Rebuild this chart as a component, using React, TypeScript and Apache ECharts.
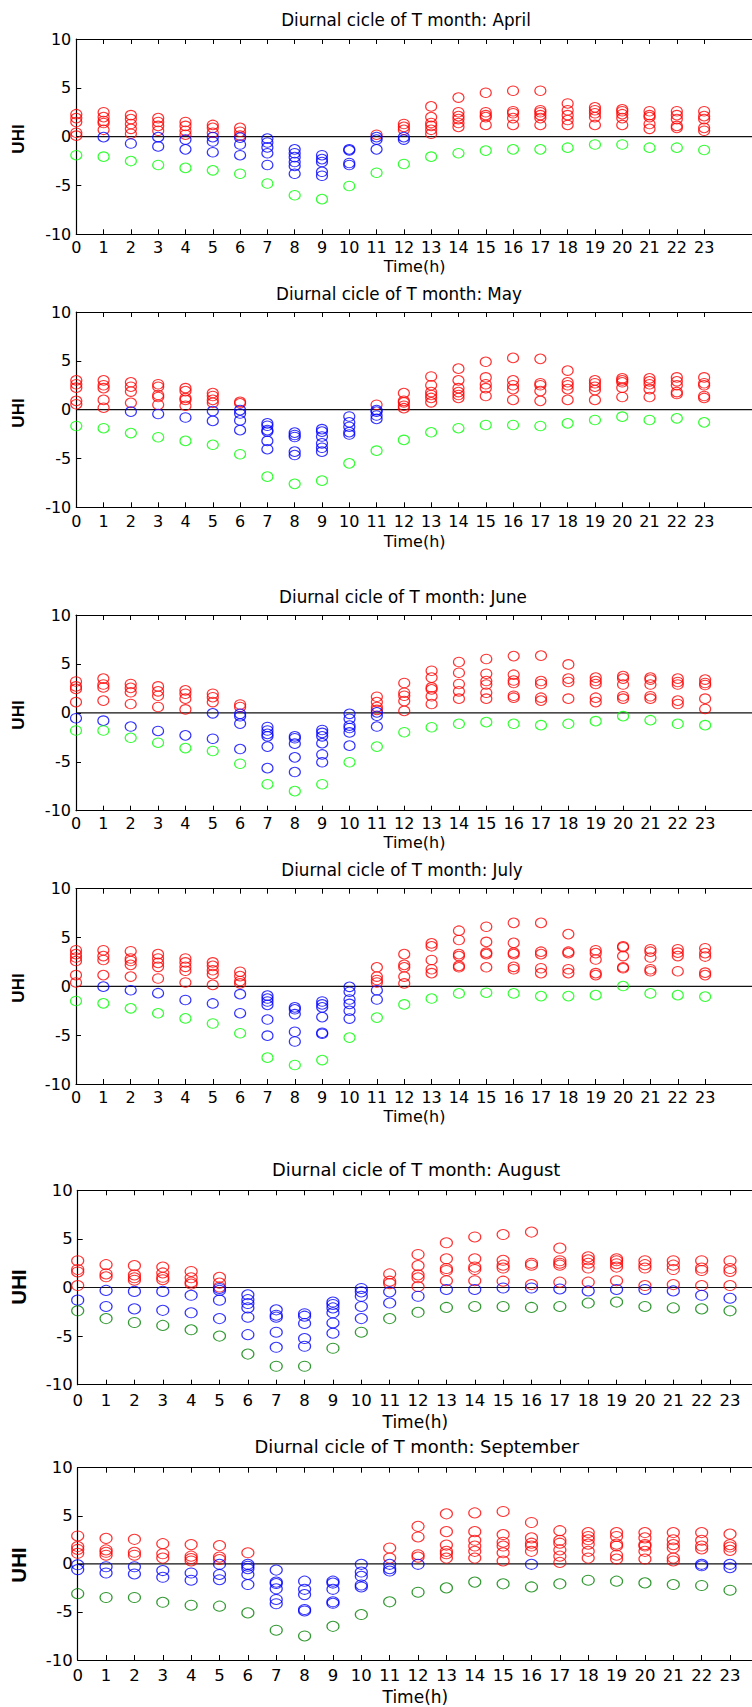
import React, { useEffect, useRef } from "react";
import * as echarts from "echarts";

// ---------------- DATA ----------------
const hours = [0, 1, 2, 3, 4, 5, 6, 7, 8, 9, 10, 11, 12, 13, 14, 15, 16, 17, 18, 19, 20, 21, 22, 23];
const yTicks = [-10, -5, 0, 5, 10];
const monthNames = ["April", "May", "June", "July", "August", "September"];

const aprRed = [
  [2.3, 1.9, 1.5, 0.4, 0.1], [2.5, 2.0, 1.6, 1.4, 0.7], [2.2, 1.8, 1.3, 0.8, 0.3], [1.9, 1.5, 1.1, 0.6],
  [1.5, 1.1, 0.6, 0.2], [1.2, 0.9, 0.4], [0.9, 0.5, 0.1], [], [], [], [], [0.2],
  [1.3, 1.0, 0.7], [3.1, 2.0, 1.4, 1.1, 0.7, 0.3], [4.0, 2.5, 2.1, 1.8, 1.4, 1.0], [4.5, 2.5, 2.2, 2.0, 1.2],
  [4.7, 2.6, 2.4, 1.9, 1.2], [4.7, 2.7, 2.5, 2.2, 1.9, 1.2], [3.4, 2.7, 2.2, 1.7, 1.2], [3.0, 2.7, 2.4, 2.0, 1.2],
  [2.8, 2.6, 2.3, 1.9, 1.2], [2.6, 2.2, 2.0, 1.3, 0.8], [2.6, 2.2, 1.8, 1.1, 0.9], [2.6, 2.1, 1.8, 0.9, 0.6],
];
const aprBlue = [
  [], [-0.05], [-0.7], [-0.05, -1.0], [-0.3, -1.3], [-0.05, -0.5, -1.6], [-0.1, -0.8, -1.9],
  [-0.2, -0.6, -1.1, -1.7, -2.9], [-1.3, -1.7, -2.1, -2.6, -3.0, -3.8], [-1.9, -2.3, -2.6, -3.6, -4.0],
  [-1.3, -1.4, -2.7, -2.9], [-0.05, -0.3, -1.3], [-0.05, -0.3], [], [], [], [], [], [], [], [], [], [], [],
];
const aprGreen = [-1.9, -2.05, -2.5, -2.9, -3.2, -3.45, -3.8, -4.8, -6.0, -6.4, -5.05, -3.7, -2.8, -2.05, -1.7, -1.43, -1.3, -1.3, -1.13, -0.8, -0.8, -1.13, -1.13, -1.37];

const mayRed = [
  [3.0, 2.6, 2.25, 0.9, 0.55], [3.0, 2.5, 2.2, 1.0, 0.2], [2.8, 2.35, 1.85, 0.7], [2.6, 2.35, 1.5, 1.3, 0.5],
  [2.2, 1.9, 1.2, 1.0, 0.4], [1.7, 1.4, 1.0, 0.7], [0.8, 0.65], [], [], [], [], [0.5],
  [1.7, 0.9, 0.75, 0.4, 0.15], [3.4, 2.5, 1.8, 1.5, 1.2, 0.75], [4.2, 3.0, 2.2, 1.8, 1.5, 1.2], [4.9, 3.3, 2.6, 2.2, 1.4],
  [5.3, 3.0, 2.5, 2.1, 1.0], [5.2, 2.7, 2.5, 1.9, 0.9], [4.0, 2.8, 2.5, 2.1, 1.0], [3.0, 2.7, 2.35, 2.0, 1.0],
  [3.2, 3.0, 2.8, 2.25, 1.3], [3.2, 2.9, 2.6, 2.1, 1.3], [3.3, 2.9, 2.5, 1.8, 1.6], [3.3, 2.7, 2.5, 1.4, 1.2],
];
const mayBlue = [
  [], [], [-0.2], [-0.45], [-0.8], [-0.15, -1.15], [-0.05, -0.4, -1.1, -2.1],
  [-1.4, -1.65, -2.1, -2.25, -3.2, -4.05], [-2.35, -2.6, -2.8, -4.3, -4.65], [-2.0, -2.25, -2.75, -3.45, -3.9, -4.3],
  [-0.7, -1.3, -1.75, -2.3, -2.55], [-0.05, -0.2, -0.6, -0.95], [], [], [], [], [], [], [], [], [], [], [], [],
];
const mayGreen = [-1.67, -1.9, -2.4, -2.83, -3.2, -3.6, -4.57, -6.86, -7.6, -7.27, -5.5, -4.2, -3.1, -2.32, -1.9, -1.57, -1.57, -1.67, -1.4, -1.06, -0.72, -1.06, -0.89, -1.3];

const junRed = [
  [3.2, 2.7, 2.45, 1.1], [3.5, 2.9, 2.6, 1.25], [2.95, 2.55, 2.1, 0.9], [2.7, 2.2, 1.75, 0.6],
  [2.3, 1.95, 1.45, 0.35], [1.95, 1.6, 1.1], [0.85, 0.6], [], [], [], [], [1.65, 1.1, 0.6, 0.3],
  [3.05, 2.05, 1.75, 1.2, 0.2], [4.3, 3.6, 2.6, 2.4, 1.7, 0.9], [5.2, 4.1, 2.95, 2.2, 1.45], [5.5, 4.0, 3.25, 2.9, 2.05, 1.45],
  [5.8, 3.9, 3.3, 3.05, 1.75, 1.55], [5.85, 3.25, 2.95, 1.55, 1.25], [4.95, 3.5, 3.15, 1.45], [3.6, 3.25, 2.95, 1.55, 1.1],
  [3.75, 3.5, 2.9, 1.7, 1.45], [3.6, 3.4, 2.9, 1.7, 1.45], [3.5, 3.15, 2.9, 1.25, 0.9], [3.4, 3.05, 2.85, 1.45, 0.4],
];
const junBlue = [
  [-0.55], [-0.8], [-1.4], [-1.85], [-2.3], [-0.05, -2.65], [-0.1, -0.35, -1.1, -3.7],
  [-1.45, -1.8, -2.15, -2.4, -3.45, -5.65], [-2.4, -2.6, -3.15, -4.55, -6.05], [-1.75, -2.05, -2.4, -3.1, -4.25, -5.05],
  [-0.1, -0.6, -1.3, -1.55, -2.0, -3.35], [0.05, -0.3, -1.4], [], [], [], [], [], [], [], [], [], [], [], [],
];
const junGreen = [-1.8, -1.8, -2.55, -3.05, -3.6, -3.9, -5.2, -7.3, -8.0, -7.3, -5.05, -3.45, -1.98, -1.47, -1.12, -0.95, -1.12, -1.26, -1.12, -0.85, -0.34, -0.75, -1.12, -1.26];

const julRed = [
  [3.7, 3.3, 2.95, 2.6, 1.15, 0.4], [3.7, 3.1, 2.7, 1.15], [3.6, 2.85, 2.6, 2.2, 1.0], [3.3, 2.85, 2.4, 2.0, 0.8],
  [2.85, 2.45, 2.0, 1.6, 0.4], [2.45, 2.1, 1.65, 1.25, 0.15], [1.5, 1.05, 0.55, 0.3], [], [], [], [], [1.95, 1.0, 0.65, 0.4],
  [3.3, 2.2, 1.95, 1.0, 0.3], [4.4, 4.1, 2.7, 1.75, 1.35], [5.7, 4.75, 3.3, 3.1, 2.1, 1.95], [6.1, 4.55, 3.45, 3.3, 1.95],
  [6.5, 4.45, 3.45, 3.3, 2.0, 1.75], [6.5, 3.55, 3.3, 1.85, 1.35], [5.35, 3.55, 3.4, 1.75, 1.35], [3.7, 3.4, 2.75, 1.35, 1.15],
  [4.1, 4.0, 3.1, 1.95, 1.85], [3.8, 3.55, 2.95, 1.75, 1.55], [3.8, 3.45, 3.1, 1.55], [3.9, 3.4, 3.05, 1.4, 1.15],
];
const julBlue = [
  [], [-0.03], [-0.4], [-0.7], [-1.4], [-1.75], [-0.8, -2.75],
  [-0.95, -1.25, -1.55, -1.9, -3.4, -5.05], [-2.15, -2.35, -2.85, -4.65, -5.65], [-1.55, -1.85, -2.15, -3.15, -4.75, -4.85],
  [-0.05, -0.55, -1.35, -1.8, -2.5, -3.3], [-0.4, -1.35], [], [], [], [], [], [], [], [], [], [], [], [],
];
const julGreen = [-1.5, -1.74, -2.25, -2.76, -3.28, -3.8, -4.8, -7.3, -8.05, -7.55, -5.25, -3.2, -1.85, -1.25, -0.72, -0.65, -0.72, -1.0, -1.0, -0.9, 0.03, -0.72, -0.9, -1.05];

const augRed = [
  [2.75, 1.85, 1.6, 0.2], [2.35, 1.4, 1.1], [2.25, 1.3, 1.0, 0.75], [2.1, 1.5, 1.05, 0.8],
  [1.65, 1.0, 0.55, 0.35], [1.05, 0.45, 0.05], [], [], [], [], [], [1.4, 0.65, 0.4],
  [3.4, 2.25, 1.3, 1.0, 0.1], [4.6, 2.95, 1.95, 1.75, 0.7], [5.2, 2.95, 2.1, 1.85, 0.7], [5.45, 2.8, 2.3, 2.0, 0.65],
  [5.7, 2.5, 2.3, 0.3], [4.05, 2.75, 2.5, 2.3, 0.55], [3.15, 2.85, 2.5, 2.0, 0.55], [2.95, 2.75, 2.45, 2.1, 0.7],
  [2.75, 2.35, 2.0, 0.2], [2.75, 2.3, 1.85, 0.3], [2.75, 2.0, 1.75, 0.2], [2.75, 1.95, 1.65, 0.2],
];
const augBlue = [
  [-1.3], [-0.3, -1.95], [-0.4, -2.2], [-0.4, -2.35], [-0.8, -2.6], [-0.1, -0.3, -1.3, -3.2],
  [-0.75, -1.25, -1.65, -2.1, -3.05, -4.85], [-2.3, -2.85, -3.05, -4.6, -6.15], [-2.7, -2.95, -3.7, -5.25, -6.05],
  [-1.5, -1.75, -2.1, -2.6, -3.65, -4.7], [-0.1, -0.45, -0.9, -1.95, -3.2], [-0.45, -1.6], [-0.9], [-0.2], [-0.2],
  [-0.05], [-0.05], [-0.15], [-0.35], [-0.2], [-0.2], [-0.35], [-0.8], [-1.1],
];
const augGreen = [-2.4, -3.2, -3.6, -3.9, -4.35, -5.0, -6.85, -8.1, -8.1, -6.25, -4.6, -3.2, -2.55, -2.05, -1.95, -1.95, -2.05, -1.95, -1.6, -1.5, -1.95, -2.1, -2.2, -2.4];

const sepRed = [
  [2.9, 1.8, 1.5, 1.1], [2.65, 1.45, 1.2, 0.9], [2.55, 1.2, 0.9], [2.1, 1.05, 0.6],
  [2.0, 0.8, 0.55, 0.3], [1.9, 0.7, 0.45], [1.15], [], [], [], [], [1.65, 0.6],
  [3.9, 2.8, 0.95, 0.7], [5.2, 3.35, 1.95, 1.3, 1.05, 0.6], [5.3, 3.35, 2.45, 1.85, 1.3, 0.6], [5.45, 3.05, 2.25, 1.85, 1.15, 0.3],
  [4.3, 2.7, 2.15, 1.85, 1.3], [3.45, 2.45, 2.15, 1.45, 0.8, 0.15], [3.25, 2.85, 2.5, 2.05, 1.3, 0.6], [3.25, 2.85, 2.05, 1.85, 0.9, 0.5],
  [3.25, 2.7, 2.0, 1.85, 1.3, 0.5], [3.25, 2.5, 2.0, 1.65, 0.6, 0.3], [3.25, 2.45, 1.85, 1.55], [3.1, 2.0, 1.75, 1.4],
];
const sepBlue = [
  [-0.1, -0.6], [-0.3, -0.95], [-0.3, -1.05], [-0.7, -1.4], [-0.95, -1.7], [-0.05, -1.1, -1.65],
  [-0.05, -0.25, -0.5, -1.1, -2.15], [-0.65, -1.9, -2.05, -2.6, -3.7, -4.15], [-1.8, -2.65, -3.2, -4.75, -4.9],
  [-1.8, -2.0, -2.65, -3.95, -4.1], [-0.05, -0.85, -1.3, -2.2, -2.4], [-0.05, -0.5, -0.75], [-0.05], [], [], [],
  [-0.05], [], [], [], [], [], [-0.05, -0.2], [-0.05, -0.4],
];
const sepGreen = [-3.1, -3.5, -3.5, -4.0, -4.3, -4.4, -5.1, -6.9, -7.5, -6.5, -5.27, -3.95, -2.95, -2.5, -1.9, -2.08, -2.4, -2.08, -1.7, -1.8, -1.98, -2.15, -2.25, -2.74];

const reds = [aprRed, mayRed, junRed, julRed, augRed, sepRed];
const blues = [aprBlue, mayBlue, junBlue, julBlue, augBlue, sepBlue];
const greens = [aprGreen, mayGreen, junGreen, julGreen, augGreen, sepGreen];

// ---------------- LAYOUT ----------------
const layout = [
  { top: 39, height: 195.3, left: 76.3, width: 676.7, xmax: 24.79, tx: 406, ty: 20, ts: 16.75, uy: 139, us: 17, gap: 24, lm: 5, sym: [11, 9.5], green: "#00ff00", fs: 16, ns: 16 },
  { top: 312, height: 195.3, left: 76.3, width: 676.7, xmax: 24.79, tx: 399, ty: 294, ts: 16.75, uy: 413, us: 17, gap: 26, lm: 6, sym: [11, 9.5], green: "#00ff00", fs: 16, ns: 16 },
  { top: 615, height: 195.7, left: 76, width: 677, xmax: 24.75, tx: 403, ty: 596.7, ts: 16.75, uy: 715, us: 17, gap: 24, lm: 5, sym: [11, 9.5], green: "#00ff00", fs: 16, ns: 16 },
  { top: 888.7, height: 195.3, left: 76, width: 677, xmax: 24.75, tx: 402, ty: 870, ts: 16.75, uy: 988, us: 17, gap: 24, lm: 5, sym: [11, 9.5], green: "#00ff00", fs: 16, ns: 16 },
  { top: 1190.3, height: 194.4, left: 77.7, width: 675.3, xmax: 23.81, tx: 416.2, ty: 1169.7, ts: 17.9, uy: 1287, us: 20.5, gap: 29, lm: 7, sym: [12, 10], green: "#008000", fs: 16.5, ns: 17 },
  { top: 1467.7, height: 192.3, left: 77.7, width: 675.3, xmax: 23.81, tx: 416.7, ty: 1446.7, ts: 17.9, uy: 1565, us: 20.5, gap: 28, lm: 7, sym: [12, 10], green: "#008000", fs: 16.5, ns: 17 },
];

const FONT = "DejaVu Sans";

function toPoints(arr: number[][]) {
  const out: number[][] = [];
  arr.forEach((vals, h) => vals.forEach((v) => out.push([hours[h], v])));
  return out;
}

function buildOption() {
  const grid: any[] = [];
  const xAxis: any[] = [];
  const yAxis: any[] = [];
  const series: any[] = [];
  const graphic: any[] = [];
  const axisLine = { show: true, onZero: false, lineStyle: { color: "#000", width: 1.2 } };

  layout.forEach((p, i) => {
    grid.push({ left: p.left, top: p.top, width: p.width, height: p.height, containLabel: false, outerBoundsMode: "none" });
    const labelFmt = (v: number) => (Number.isInteger(v) && v >= 0 && v <= 23 ? String(v) : "");
    xAxis.push({
      type: "value", gridIndex: i, position: "bottom", min: 0, max: p.xmax,
      axisLine,
      axisTick: { show: true, inside: true, length: 5, customValues: hours, lineStyle: { color: "#000", width: 1 } },
      axisLabel: { show: true, customValues: hours, formatter: labelFmt, margin: p.lm, fontSize: p.fs, fontFamily: FONT, color: "#000" },
      splitLine: { show: false },
      name: "Time(h)", nameLocation: "middle", nameGap: p.gap,
      nameTextStyle: { fontSize: p.ns, fontFamily: FONT, color: "#000" },
    });
    xAxis.push({
      type: "value", gridIndex: i, position: "top", min: 0, max: p.xmax,
      axisLine,
      axisTick: { show: true, inside: true, length: 5, customValues: hours, lineStyle: { color: "#000", width: 1 } },
      axisLabel: { show: false },
      splitLine: { show: false },
    });
    yAxis.push({
      type: "value", gridIndex: i, min: -10, max: 10, interval: 5,
      axisLine,
      axisTick: { show: true, inside: true, length: 5, lineStyle: { color: "#000", width: 1 } },
      axisLabel: { show: true, margin: 5, fontSize: p.fs, fontFamily: FONT, color: "#000",
        formatter: (v: number) => (yTicks.includes(v) ? String(v) : "") },
      splitLine: { show: false },
    });
    const xi = i * 2;
    series.push({
      type: "line", xAxisIndex: xi, yAxisIndex: i, data: [[0, 0], [p.xmax, 0]],
      symbol: "none", silent: true, z: 1,
      lineStyle: { color: "#111", width: 1.2 },
    });
    const mk = (data: number[][], color: string) => ({
      type: "scatter", xAxisIndex: xi, yAxisIndex: i, data,
      symbol: "circle", symbolSize: p.sym, z: 3,
      itemStyle: { color: "rgba(0,0,0,0)", borderColor: color, borderWidth: 1.1 },
    });
    series.push(mk(toPoints(reds[i]), "#ff0000"));
    series.push(mk(toPoints(blues[i]), "#0000ff"));
    series.push(mk(greens[i].map((v, h) => [hours[h], v]), p.green));

    graphic.push({
      type: "text", x: p.tx, y: p.ty,
      style: {
        text: "Diurnal cicle of T month: " + monthNames[i],
        fontSize: p.ts, fontFamily: FONT, fill: "#000",
        textAlign: "center", textVerticalAlign: "middle", align: "center", verticalAlign: "middle",
      },
    });
    graphic.push({
      type: "text", x: 18, y: p.uy, rotation: Math.PI / 2,
      style: {
        text: "UHI", fontSize: p.us, fontFamily: "Liberation Sans", fontWeight: "bold", fill: "#000",
        textAlign: "center", textVerticalAlign: "middle", align: "center", verticalAlign: "middle",
      },
    });
  });

  return {
    animation: false,
    backgroundColor: "#fff",
    textStyle: { fontFamily: FONT },
    grid, xAxis, yAxis, series, graphic,
  };
}

export default function App() {
  const ref = useRef<HTMLDivElement>(null);
  useEffect(() => {
    const chart = echarts.init(ref.current as HTMLDivElement, undefined, { renderer: "svg" });
    chart.setOption(buildOption() as any);
    return () => chart.dispose();
  }, []);
  return (
    <div
      ref={ref}
      style={{ position: "absolute", left: 0, top: 0, width: 752, height: 1707, background: "#fff" }}
    />
  );
}
